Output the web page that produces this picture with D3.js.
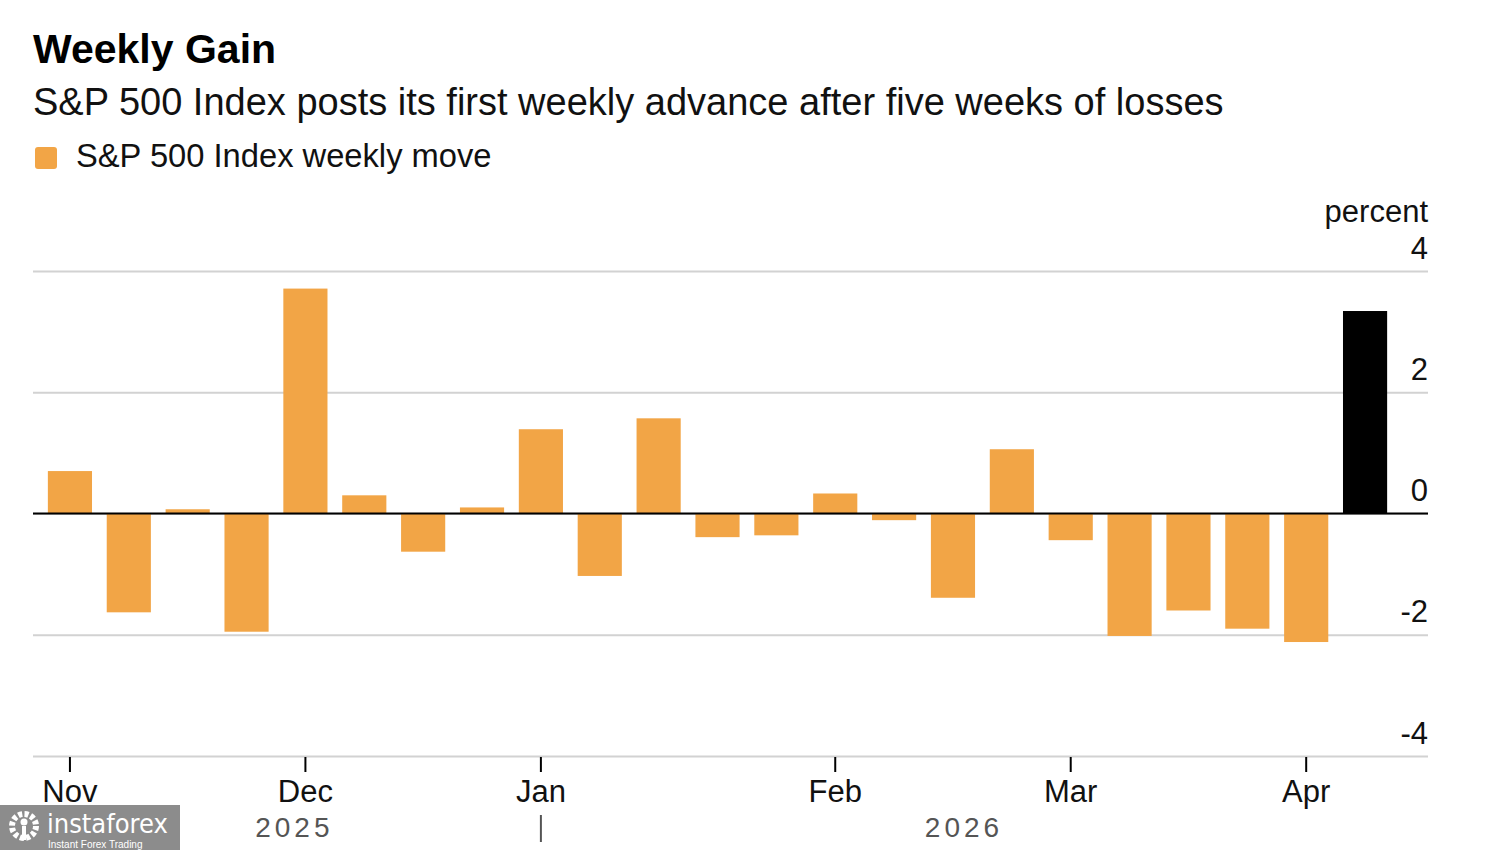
<!DOCTYPE html>
<html>
<head>
<meta charset="utf-8">
<script src="https://cdn.jsdelivr.net/npm/d3@7"></script>
<style>
  html, body { margin: 0; padding: 0; background: #fff; }
  svg { display: block; font-family: "Liberation Sans", Arial, sans-serif; }
</style>
</head>
<body>
<svg id="chart"></svg>
<script>
// S&P 500 weekly move, week ending dates
const weeks = [
    "2025-11-07", "2025-11-14", "2025-11-21", "2025-11-28",
    "2025-12-05", "2025-12-12", "2025-12-19", "2025-12-26",
    "2026-01-02", "2026-01-09", "2026-01-16", "2026-01-23", "2026-01-30",
    "2026-02-06", "2026-02-13", "2026-02-20", "2026-02-27",
    "2026-03-06", "2026-03-13", "2026-03-20", "2026-03-27",
    "2026-04-03", "2026-04-10"
];
const weeklyMove = [
    0.70, -1.63, 0.07, -1.95,
    3.71, 0.30, -0.63, 0.10,
    1.39, -1.03, 1.57, -0.39, -0.36,
    0.33, -0.11, -1.39, 1.06,
    -0.44, -2.02, -1.60, -1.90,
    -2.12, 3.34
];
const latestWeek = "2026-04-10";

const monthTicks = ["2025-11-07", "2025-12-05", "2026-01-02", "2026-02-06", "2026-03-06", "2026-04-03"];
const monthLabels = ["Nov", "Dec", "Jan", "Feb", "Mar", "Apr"];
const yTicks = [-4, -2, 0, 2, 4];
const years = ["2025", "2026"];
const yearBreak = "2026-01-02";

const width = 1500;
const height = 850;
const orange = "#f2a546";

const svg = d3.select("#chart")
    .attr("width", width)
    .attr("height", height);

// Title block
svg.append("text")
    .attr("x", 33).attr("y", 63)
    .attr("font-size", 41).attr("font-weight", "bold")
    .attr("fill", "#000")
    .text("Weekly Gain");

svg.append("text")
    .attr("x", 33).attr("y", 115)
    .attr("font-size", 38)
    .attr("fill", "#111")
    .text("S&P 500 Index posts its first weekly advance after five weeks of losses");

// Legend
svg.append("rect")
    .attr("x", 35).attr("y", 147)
    .attr("width", 22).attr("height", 22)
    .attr("rx", 3)
    .attr("fill", orange);
svg.append("text")
    .attr("x", 76).attr("y", 167)
    .attr("font-size", 32.7)
    .attr("fill", "#111")
    .text("S&P 500 Index weekly move");

// Scales
const plotLeft = 33, plotRight = 1428;

const x = d3.scaleBand()
    .domain(weeks)
    .range([40.5, 1394.5])
    .paddingInner(0.25)
    .paddingOuter(0.125);

const y = d3.scaleLinear()
    .domain([-4, 4])
    .range([756, 271]);

// Grid lines + right-aligned labels above each line
const yAxis = svg.append("g")
    .attr("transform", `translate(${plotRight},0)`)
    .call(d3.axisLeft(y).tickValues(yTicks).tickSize(plotRight - plotLeft).tickFormat(d => String(d)));
yAxis.select(".domain").remove();
yAxis.selectAll(".tick line")
    .attr("stroke", "#d2d2d2")
    .attr("stroke-width", 2);
yAxis.selectAll(".tick text")
    .attr("x", 0)
    .attr("dy", -13)
    .attr("text-anchor", "end")
    .attr("font-size", 31)
    .attr("font-family", "Liberation Sans, Arial, sans-serif")
    .attr("fill", "#111");

svg.append("text")
    .attr("x", plotRight).attr("y", 222)
    .attr("text-anchor", "end")
    .attr("font-size", 31)
    .attr("fill", "#111")
    .text("percent");

// Bars
svg.append("g")
    .selectAll("rect")
    .data(weeks.map((w, i) => ({ week: w, value: weeklyMove[i] })))
    .join("rect")
    .attr("x", d => x(d.week))
    .attr("width", x.bandwidth())
    .attr("y", d => y(Math.max(0, d.value)))
    .attr("height", d => Math.abs(y(d.value) - y(0)))
    .attr("fill", d => d.week === latestWeek ? "#000" : orange);

// Zero line
svg.append("line")
    .attr("x1", plotLeft).attr("x2", plotRight)
    .attr("y1", y(0)).attr("y2", y(0))
    .attr("stroke", "#000")
    .attr("stroke-width", 2);

// Bottom month axis
const xAxis = svg.append("g")
    .attr("transform", `translate(0,${y(-4) + 1})`)
    .call(d3.axisBottom(x)
        .tickValues(monthTicks)
        .tickSize(15)
        .tickPadding(8)
        .tickFormat(d => monthLabels[monthTicks.indexOf(d)]));
xAxis.select(".domain").remove();
xAxis.selectAll(".tick line")
    .attr("stroke", "#000")
    .attr("stroke-width", 2);
xAxis.selectAll(".tick text")
    .attr("font-size", 31)
    .attr("font-family", "Liberation Sans, Arial, sans-serif")
    .attr("fill", "#111");

// Year labels centred over each year's span
const breakX = x(yearBreak) + x.bandwidth() / 2;
const yearSpans = [
    [x(weeks[0]), breakX],
    [breakX, x(weeks[weeks.length - 1]) + x.bandwidth()]
];
svg.append("g")
    .selectAll("text")
    .data(years)
    .join("text")
    .attr("x", (d, i) => (yearSpans[i][0] + yearSpans[i][1]) / 2)
    .attr("y", 837)
    .attr("text-anchor", "middle")
    .attr("font-size", 28)
    .attr("letter-spacing", 4)
    .attr("fill", "#555")
    .text(d => d);

svg.append("line")
    .attr("x1", breakX).attr("x2", breakX)
    .attr("y1", 815).attr("y2", 842)
    .attr("stroke", "#555")
    .attr("stroke-width", 2);

// Watermark
const wm = svg.append("g");
wm.append("rect")
    .attr("x", 0).attr("y", 805)
    .attr("width", 180).attr("height", 45)
    .attr("fill", "#8c8c8c");
wm.append("circle")
    .attr("cx", 24).attr("cy", 826)
    .attr("r", 12)
    .attr("fill", "none")
    .attr("stroke", "#fff")
    .attr("stroke-width", 6)
    .attr("stroke-dasharray", "4 2.3");
wm.append("circle")
    .attr("cx", 24).attr("cy", 822)
    .attr("r", 3.5)
    .attr("fill", "#fff");
wm.append("rect")
    .attr("x", 22).attr("y", 826)
    .attr("width", 4).attr("height", 14)
    .attr("fill", "#fff");
wm.append("text")
    .attr("x", 47).attr("y", 833)
    .attr("font-size", 27)
    .attr("font-family", "DejaVu Sans Condensed, Liberation Sans Narrow, sans-serif")
    .attr("font-weight", 300)
    .attr("fill", "#fff")
    .text("instaforex");
wm.append("text")
    .attr("x", 48).attr("y", 848)
    .attr("font-size", 10)
    .attr("fill", "#fff")
    .text("Instant Forex Trading");
</script>
</body>
</html>
